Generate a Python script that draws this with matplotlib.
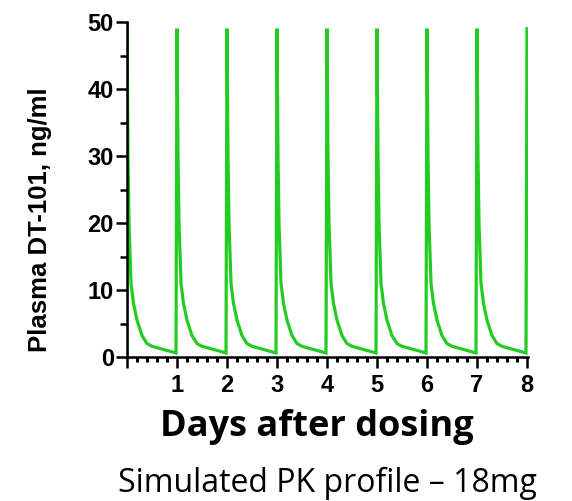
import matplotlib
matplotlib.use("Agg")
import matplotlib.pyplot as plt
from matplotlib.ticker import MultipleLocator

# one dosing cycle (days after dose, ng/ml)
cycle_t = [0.0, 0.02, 0.04, 0.08, 0.13, 0.20, 0.30, 0.40, 0.50, 0.98]
cycle_c = [49.0, 30.0, 20.0, 11.0, 8.0, 5.5, 3.2, 2.0, 1.6, 0.6]
dose_days = [0, 1, 2, 3, 4, 5, 6, 7]
last_peak = 49.0
x_labels = ["", "1", "2", "3", "4", "5", "6", "7", "8"]

# build the repeated profile
t = [0.0]
c = [0.0]
for d in dose_days:
    for ti, ci in zip(cycle_t, cycle_c):
        t.append(d + ti)
        c.append(ci)
t.append(8.0)
c.append(last_peak)
c[1] = 50.0  # first dose peak reaches the top

fig = plt.figure(figsize=(5.72, 5.01), dpi=100)
fig.patch.set_facecolor("white")
ax = fig.add_axes([127 / 572, 1 - 357 / 501, 401 / 572, 335 / 501])

ax.plot(t, c, color="#22cc22", lw=2.3, solid_joinstyle="miter")

ax.set_xlim(0, 8.02)
ax.set_ylim(0, 50)
ax.spines["top"].set_visible(False)
ax.spines["right"].set_visible(False)
for s in ("left", "bottom"):
    ax.spines[s].set_linewidth(1.8)

ax.xaxis.set_minor_locator(MultipleLocator(0.2))
ax.yaxis.set_major_locator(MultipleLocator(10))
ax.yaxis.set_minor_locator(MultipleLocator(5))
ax.set_xticks(range(len(x_labels)))
ax.set_xticklabels(x_labels)
ax.tick_params(axis="both", which="major", length=8, width=1.8, labelsize=17)
ax.tick_params(axis="y", which="minor", length=5, width=1.8)
ax.tick_params(axis="x", which="minor", length=3.5, width=2.2)
ax.tick_params(axis="x", which="major", pad=4)
ax.tick_params(axis="y", which="major", pad=1.5)
for lab in ax.get_xticklabels() + ax.get_yticklabels():
    lab.set_fontfamily("Liberation Sans")
    lab.set_fontweight("bold")

ax.set_ylabel("Plasma DT-101, ng/ml", fontsize=18.5, fontweight="bold",
              family="Liberation Sans")
ax.yaxis.set_label_coords(-0.187, 0.41)

fig.text(317 / 572, 1 - 427 / 501, "Days after dosing", ha="center", va="center",
         fontsize=26, fontweight="bold", family="Open Sans")
fig.text(327 / 572, 1 - 483 / 501, "Simulated PK profile \u2013 18mg", ha="center",
         va="center", fontsize=23, family="Open Sans")

fig.savefig("out.png", dpi=100)
